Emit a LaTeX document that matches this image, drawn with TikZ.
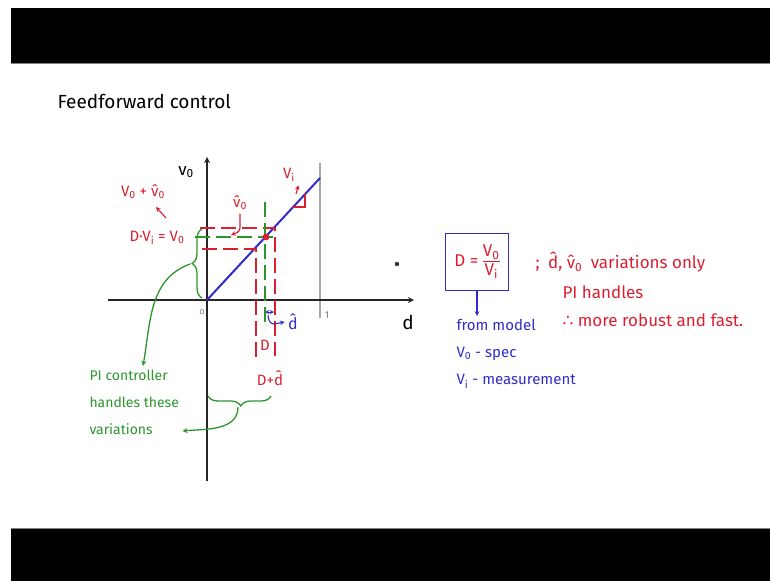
\documentclass[tikz,border=0pt]{standalone}
\usepackage{fontspec}
\setsansfont{Fira Sans}
\newfontfamily\symbfont{DejaVu Sans}
\usetikzlibrary{decorations.pathreplacing}
\definecolor{inkred}{RGB}{218,32,48}
\definecolor{inkblue}{RGB}{48,44,200}
\definecolor{inkgreen}{RGB}{44,150,44}
\begin{document}
\begin{tikzpicture}[
  x=1pt,
  y=-1pt,
  font=\sffamily,
  >=stealth,
  axis/.style={->, line width=1.7pt, black!85},
  redline/.style={inkred, line width=1.1pt},
  reddash/.style={inkred, line width=1.4pt, dash pattern=on 15pt off 6pt},
  greendash/.style={inkgreen, line width=1.4pt, dash pattern=on 15pt off 6pt},
  greenline/.style={inkgreen, line width=1.3pt},
  bluearrow/.style={->, inkblue, line width=1.1pt},
  redtext/.style={text=inkred, font=\sffamily\fontsize{15}{18}\selectfont},
  notetext/.style={text=inkred, font=\sffamily\fontsize{17}{20}\selectfont},
  bluetext/.style={text=inkblue, font=\sffamily\fontsize{15}{27}\selectfont, align=left},
  greentext/.style={text=inkgreen, font=\sffamily\fontsize{14}{27}\selectfont, align=left}
]
\useasboundingbox (0,0) rectangle (770,581);
\fill[black] (11,8) rectangle (770,63);
\fill[black] (11,529) rectangle (770,581);
\draw[gray, line width=0.8pt] (11,63.5) -- (770,63.5);
\draw[gray, line width=0.8pt] (11,528.5) -- (770,528.5);

\node[anchor=west, font=\sffamily\fontsize{19}{22}\selectfont] (title) at (54,101) {Feedforward control};

% axes
\coordinate (O) at (207,300);
\coordinate (ybot) at (207,481);
\coordinate (ytop) at (207,157);
\coordinate (xleft) at (108,300);
\coordinate (xright) at (414,300);
\draw[gray!70, line width=1.2pt] (320,163) -- (320,318);
\draw[axis] (ybot) -- (ytop);
\draw[axis] (xleft) -- (xright);
\node[font=\sffamily\fontsize{17}{18}\selectfont] (vlab) at (186,172) {v\textsubscript{0}};
\node[font=\sffamily\fontsize{19}{20}\selectfont] (dlab) at (408,322) {d};
\node[text=gray, font=\sffamily\fontsize{10}{10}\selectfont] (onelab) at (327,315) {1};
\node[text=gray, font=\sffamily\fontsize{9}{9}\selectfont] (olab) at (202,312) {o};

% operating line
\coordinate (vtop) at (320,178);
\draw[inkblue, line width=2pt] (O) -- (vtop);
\draw[redline] (293,207) -- (305,207) -- (305,194);
\node[redtext] (vilab) at (289,175) {V\textsubscript{i}};
\coordinate (vitail) at (296,194);
\draw[redline, ->] (vitail) -- (vilab.south east);

% band of variations
\draw[reddash] (200,228) -- (275,228) -- (275,356);
\draw[reddash] (202,249) -- (256,249) -- (256,362);
\draw[greendash] (195,237) -- (277,237);
\draw[greendash] (265,202) -- (265,328);
\fill[inkred] (266,237) circle (3.4);

\node[redtext] (vhat) at (240,203) {\^v\textsubscript{0}};
\coordinate (vhatend) at (231,235);
\draw[redline, ->] (vhat.south) -- ++(0,14) to[out=-90, in=20] (vhatend);

\node[redtext] (vsum) at (143,192) {V\textsubscript{0} + \^v\textsubscript{0}};
\node[redtext] (dvi) at (157,238) {D·V\textsubscript{i} = V\textsubscript{0}};
\coordinate (dvitail) at (166,218);
\coordinate (dvitip) at (156,207);
\draw[redline, ->] (dvitail) -- (dvitip);

\node[redtext] (dlabel) at (265,345) {D};
\node[redtext] (dplus) at (270,378) {D+\^d};

\coordinate (dhl) at (265,312);
\coordinate (dhr) at (274,312);
\draw[inkblue, line width=0.9pt, <->] (dhl) -- (dhr);
\node[text=inkblue, font=\sffamily\fontsize{16}{18}\selectfont] (dhat) at (293,322) {\^d};
\draw[bluearrow] (268,315) to[out=-90, in=180] (274,324) -- (dhat.west);

% braces and PI note
\coordinate (bracebot) at (202,298);
\coordinate (bracetop) at (202,229);
\draw[greenline, decorate, decoration={brace, amplitude=10pt}] (bracebot) -- (bracetop);
\coordinate (bracetip) at (190,264);
\node[greentext, anchor=north west] (pinote) at (86,366) {PI controller\\handles these\\variations};
\draw[greenline, ->] (bracetip) to[out=200, in=80] (pinote.north -| 143,0);

\coordinate (hbr) at (271,396);
\coordinate (hbl) at (208,396);
\draw[greenline, decorate, decoration={brace, amplitude=10pt, aspect=0.48}] (hbr) -- (hbl);
\coordinate (hbtip) at (238,407);
\draw[greenline, ->] (hbtip) to[out=-90, in=5] (pinote.east |- 0,431);

% model box
\node[draw=inkblue, line width=1.2pt, minimum width=63pt, minimum height=57pt, text=inkred,
  font=\sffamily\fontsize{17}{20}\selectfont] (ratio) at (477,262)
  {D = \begin{tabular}{@{}c@{}}V\textsubscript{0}\\[-2pt]\hline V\textsubscript{i}\end{tabular}};
\node[bluetext, anchor=north west] (model) at (453,316) {from model\\V\textsubscript{0} - spec\\V\textsubscript{i} - measurement};
\draw[bluearrow] (ratio.south) -- (ratio.south |- model.north);

\node[notetext, anchor=west] (note1) at (532,262) {;\enspace\^d, \^v\textsubscript{0}\enspace variations only};
\node[notetext, anchor=west] (note2) at (559,292) {PI handles};
\node[notetext, anchor=west] (note3) at (559,320) {{\symbfont ∴} more robust and fast.};

\fill[black!80] (397,264) circle (2.2);
\end{tikzpicture}
\end{document}
